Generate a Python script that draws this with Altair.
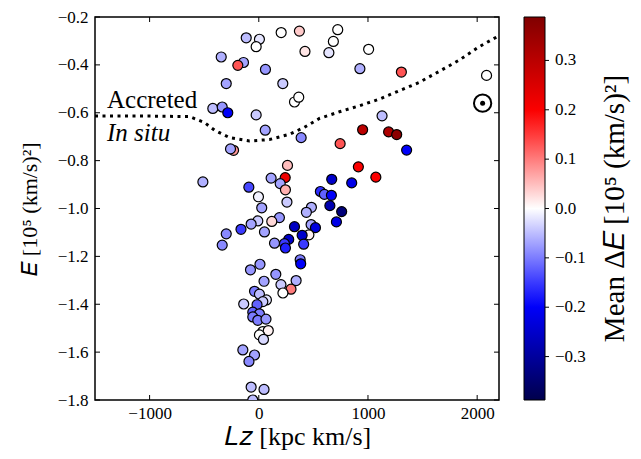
import altair as alt
import pandas as pd

# ---------------- data ----------------
Lz = [-115, 6, -24, 205, 372, 723, 683, 642, 423, 1006,
      -344, -140, -192, 61, 926, 1306, 2086, -298, 220, 327,
      366, -421, -335, -284, -24, 1129, 59, 388, 951, 1189,
      1263, 745, 1354, -231, -259, -512, 263, 113, 242, 196,
      244, -91, -3, 258, 27, 912, 1072, 668, 851, 564,
      601, 665, 651, 759, 711, 482, 436, 479, 519, 327,
      459, 397, 274, 235, 244, 144, 411, 189, 119, -9,
      -70, -163, 52, -298, -335, 379, 384, -76, 11, 156,
      48, 342, 203, 295, 221, -39, 6, 70, 37, -138,
      -16, -55, 6, -55, -9, 66, 37, 87, 6, 43,
      -146, -39, -90, -70, 48, -55]
E = [-0.287, -0.293, -0.324, -0.265, -0.259, -0.253, -0.302, -0.349, -0.344, -0.335,
     -0.367, -0.390, -0.402, -0.419, -0.416, -0.430, -0.444, -0.478, -0.478, -0.555,
     -0.535, -0.582, -0.576, -0.600, -0.609, -0.613, -0.673, -0.704, -0.671, -0.680,
     -0.691, -0.729, -0.756, -0.757, -0.751, -0.889, -0.820, -0.873, -0.871, -0.896,
     -0.922, -0.911, -0.951, -0.973, -0.997, -0.826, -0.869, -0.878, -0.893, -0.929,
     -0.941, -0.945, -0.988, -1.013, -1.056, -0.995, -1.016, -1.067, -1.080, -1.076,
     -1.110, -1.112, -1.129, -1.147, -1.165, -1.145, -1.149, -1.038, -1.054, -1.052,
     -1.065, -1.087, -1.098, -1.106, -1.153, -1.214, -1.231, -1.256, -1.233, -1.275,
     -1.304, -1.301, -1.318, -1.337, -1.353, -1.346, -1.358, -1.382, -1.389, -1.399,
     -1.402, -1.433, -1.440, -1.453, -1.467, -1.462, -1.514, -1.510, -1.528, -1.547,
     -1.591, -1.612, -1.639, -1.746, -1.756, -1.800]
dE = [-0.05, -0.02, 0.0, 0.0, 0.04, 0.0, 0.0, -0.02, 0.02, 0.0,
      -0.06, -0.07, 0.13, -0.08, -0.06, 0.13, 0.0, -0.07, -0.04, 0.0,
      0.0, -0.05, -0.08, -0.2, -0.04, -0.05, -0.07, -0.09, 0.3, 0.32,
      0.37, 0.13, -0.2, 0.08, -0.07, -0.06, 0.05, -0.07, 0.22, -0.07,
      0.06, -0.14, -0.01, -0.04, -0.07, 0.2, 0.2, -0.25, -0.22, -0.16,
      -0.12, -0.2, -0.28, -0.34, -0.22, -0.06, -0.06, -0.07, -0.23, -0.26,
      0.01, -0.25, -0.25, -0.15, -0.17, -0.08, -0.15, -0.08, 0.03, -0.04,
      -0.07, -0.15, -0.07, -0.09, -0.09, -0.1, -0.2, -0.08, -0.08, -0.08,
      -0.07, -0.06, -0.04, 0.1, 0.0, -0.1, -0.05, -0.02, -0.04, -0.04,
      -0.12, -0.12, -0.1, -0.1, -0.1, -0.08, 0.0, 0.01, 0.0, -0.03,
      -0.07, -0.07, -0.09, -0.05, -0.05, -0.05]

bound_Lz = [-1500, -1000, -634, -497, -405, -268, -85, 98, 281, 418,
            555, 738, 921, 1104, 1287, 1470, 1653, 1836, 2019, 2200]
bound_E = [-0.614, -0.614, -0.616, -0.641, -0.673, -0.704, -0.718, -0.712, -0.690, -0.661,
           -0.624, -0.596, -0.571, -0.543, -0.508, -0.473, -0.427, -0.380, -0.324, -0.278]

sun_Lz = [2050]
sun_E = [-0.56]

x_ticks = [-1000, 0, 1000, 2000]
y_ticks = [-1.8, -1.6, -1.4, -1.2, -1.0, -0.8, -0.6, -0.4, -0.2]
cbar_ticks = [-0.3, -0.2, -0.1, 0.0, 0.1, 0.2, 0.3]

# ---------------- layout / style ----------------
W, H = 404, 383
FONT = "Liberation Serif"
MINUS = "replace(datum.label, '-', '\u2212')"

df = pd.DataFrame({"Lz": Lz, "E": E, "dE": dE})
bdf = pd.DataFrame({"Lz": bound_Lz, "E": bound_E})
sdf = pd.DataFrame({"Lz": sun_Lz, "E": sun_E})
xt = pd.DataFrame({"Lz": x_ticks})
yt = pd.DataFrame({"E": y_ticks})
ct = pd.DataFrame({"dE": cbar_ticks})

xscale = alt.Scale(domain=[-1500, 2200], nice=False, zero=False)
yscale = alt.Scale(domain=[-1.8, -0.2], nice=False, zero=False)
cscale = alt.Scale(domain=[-0.388, -0.194, 0.0, 0.194, 0.388],
                   range=["#00004c", "#0000ff", "#ffffff", "#ff0000", "#800000"],
                   interpolate="rgb")

xaxis = alt.Axis(values=x_ticks, format="d", labelExpr=MINUS, title="𝐿𝑧 [kpc km/s]",
                 ticks=False, tickSize=0, domain=False, grid=False, labelFont=FONT,
                 labelFontSize=17, labelColor="black", labelPadding=5, labelFlush=False,
                 titleFont=FONT, titleFontSize=26, titleFontWeight="normal",
                 titleColor="black", titlePadding=2)
yaxis = alt.Axis(values=y_ticks, format=".1f", labelExpr=MINUS, title="𝐸 [10⁵ (km/s)²]",
                 ticks=False, tickSize=0, domain=False, grid=False, labelFont=FONT,
                 labelFontSize=17, labelColor="black", labelPadding=7, titleFont=FONT,
                 titleFontSize=22, titleFontWeight="normal", titleColor="black",
                 titlePadding=16)

X = alt.X("Lz:Q", scale=xscale, axis=xaxis)
Y = alt.Y("E:Q", scale=yscale, axis=yaxis)

points = alt.Chart(df).mark_circle(size=100, stroke="black", strokeWidth=1.2, opacity=1, clip=True).encode(
    x=X, y=Y,
    fill=alt.Fill("dE:Q", scale=cscale,
                  legend=alt.Legend(orient="right", offset=25, padding=0, direction="vertical",
                                    gradientLength=H, gradientThickness=21,
                                    gradientStrokeColor="black", gradientStrokeWidth=1,
                                    values=cbar_ticks, format=".1f", labelExpr=MINUS,
                                    labelFont=FONT, labelFontSize=17, labelColor="black",
                                    labelOffset=10, labelOverlap=False, title=None)),
)

boundary = alt.Chart(bdf).mark_line(color="black", strokeWidth=3, strokeDash=[3, 4.5],
                                    strokeCap="butt").encode(x=X, y=Y)

sun_ring = alt.Chart(sdf).mark_point(shape="circle", size=300, color="black", strokeWidth=2,
                                     filled=False, opacity=1).encode(x=X, y=Y)
sun_dot = alt.Chart(sdf).mark_circle(size=25, color="black", opacity=1).encode(x=X, y=Y)

txt_acc = alt.Chart(sdf).mark_text(text="Accreted", align="left", baseline="alphabetic", font=FONT,
                                   fontSize=25, color="black").encode(x=alt.datum(-1390), y=alt.datum(-0.582))
txt_ins = alt.Chart(sdf).mark_text(text="In situ", align="left", baseline="alphabetic", font=FONT,
                                   fontSize=25, fontStyle="italic", color="black").encode(
    x=alt.datum(-1390), y=alt.datum(-0.716))

tick_bottom = alt.Chart(xt).mark_rule(color="black", strokeWidth=1).encode(x=X, y=alt.value(H), y2=alt.value(H - 5))
tick_top = alt.Chart(xt).mark_rule(color="black", strokeWidth=1).encode(x=X, y=alt.value(0), y2=alt.value(5))
tick_left = alt.Chart(yt).mark_rule(color="black", strokeWidth=1).encode(y=Y, x=alt.value(0), x2=alt.value(5))
tick_right = alt.Chart(yt).mark_rule(color="black", strokeWidth=1).encode(y=Y, x=alt.value(W), x2=alt.value(W - 5))

cbar_title = alt.Chart(sdf).mark_text(text="Mean Δ𝐸 [10⁵ (km/s)²]", angle=270, align="center",
                                      baseline="middle", font=FONT, fontSize=29, color="black").encode(
    x=alt.value(W + 116), y=alt.value(H / 2))

main = alt.layer(boundary, points, sun_ring, sun_dot, txt_acc, txt_ins,
                 tick_bottom, tick_top, tick_left, tick_right, cbar_title)

cbar_ticks_layer = alt.Chart(ct).mark_rule(color="black", strokeWidth=1).encode(
    y=alt.Y("dE:Q", scale=alt.Scale(domain=[-0.388, 0.388], nice=False, zero=False), axis=None),
    x=alt.value(W + 46), x2=alt.value(W + 50))

chart = alt.layer(main, cbar_ticks_layer).resolve_scale(y="independent").properties(
    width=W, height=H,
    padding={"left": 87, "top": 9, "right": 134, "bottom": 51},
    autosize=alt.AutoSizeParams(type="none"),
).configure_view(stroke="black", strokeWidth=1.5).configure_legend(
    gradientVerticalMaxLength=500)

chart.save("out.html", embed_options={"renderer": "svg", "actions": False})
